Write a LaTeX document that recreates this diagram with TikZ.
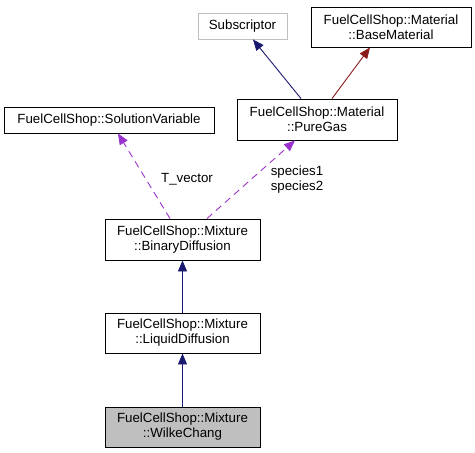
\documentclass[tikz,border=0pt]{standalone}
\usepackage{fontspec}
\setmainfont{Liberation Sans}
\usetikzlibrary{arrows.meta}
\definecolor{inhblue}{HTML}{191970}
\definecolor{inhred}{HTML}{8B1A1A}
\definecolor{usepurple}{HTML}{9A32CD}
\definecolor{boxgray}{HTML}{BFBFBF}
\tikzset{
  cls/.style={draw=black,line width=0.9pt,fill=white,align=center,inner sep=0pt,
    font=\fontsize{13.3}{15}\selectfont},
  ext/.style={cls,draw=boxgray},
  cur/.style={cls,fill=boxgray},
  inh/.style={line width=0.9pt,-{Triangle[length=11pt,width=9pt]}},
  use/.style={line width=0.9pt,usepurple,dash pattern=on 7pt off 5pt,-{Triangle[length=11pt,width=9pt]}},
  lbl/.style={align=center,inner sep=0pt,font=\fontsize{13.3}{15}\selectfont}
}

\begin{document}
\begin{tikzpicture}[x=1pt,y=-1pt]
 \useasboundingbox (0,0) rectangle (475,453);
 % classes
 \node[ext,minimum width=89pt,minimum height=26pt] (sub) at (242.5,26) {Subscriptor};
 \node[cls,minimum width=160pt,minimum height=40pt] (base) at (391,27) {FuelCellShop::Material\\::BaseMaterial};
 \node[cls,minimum width=210pt,minimum height=26pt] (solvar) at (109,120) {FuelCellShop::SolutionVariable};
 \node[cls,minimum width=160pt,minimum height=41pt] (puregas) at (317,119.5) {FuelCellShop::Material\\::PureGas};
 \node[cls,minimum width=155pt,minimum height=41pt] (binary) at (182.5,239.5) {FuelCellShop::Mixture\\::BinaryDiffusion};
 \node[cls,minimum width=155pt,minimum height=40pt] (liquid) at (182.5,333) {FuelCellShop::Mixture\\::LiquidDiffusion};
 \node[cur,minimum width=155pt,minimum height=40pt] (wilke) at (182.5,427) {FuelCellShop::Mixture\\::WilkeChang};
 % inheritance
 \draw[inh,inhblue] ([xshift=-16pt]puregas.north) -- ([xshift=10.5pt]sub.south);
 \draw[inh,inhred] ([xshift=15pt]puregas.north) -- ([xshift=-21pt]base.south);
 \draw[inh,inhblue] (liquid.north) -- (binary.south);
 \draw[inh,inhblue] (wilke.north) -- (liquid.south);
 % usage
 \draw[use] ([xshift=-12.5pt]binary.north) -- ([xshift=9pt]solvar.south);
 \draw[use] ([xshift=24.5pt]binary.north) -- ([xshift=-22pt]puregas.south);
 \node[lbl] (tvec) at (187,179) {T\_vector};
 \node[lbl] (species) at (297,179.5) {species1\\species2};
\end{tikzpicture}
\end{document}
